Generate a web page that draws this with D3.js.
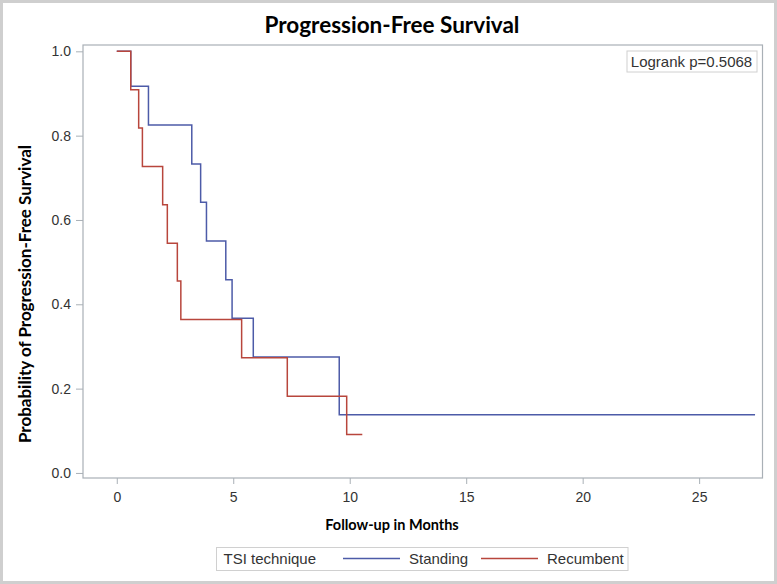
<!DOCTYPE html>
<html>
<head>
<meta charset="utf-8">
<script src="https://cdn.jsdelivr.net/npm/d3@7"></script>
<style>
  body { margin: 0; background: #fff; }
  svg { display: block; }
  .tick text { font-family: "Liberation Sans", Arial, sans-serif; font-size: 14px; fill: #333; }
</style>
</head>
<body>
<svg id="chart"></svg>
<script>
// KM step data
var seriesNames = ["Standing", "Recumbent"];
var standingTimes = [0, 0.6, 1.36, 3.22, 3.6, 3.85, 4.68, 4.95, 5.86, 9.55, 27.4];
var standingSurv = [1, 0.917, 0.825, 0.733, 0.642, 0.550, 0.458, 0.367, 0.275, 0.138, 0.138];
var recumbentTimes = [0, 0.6, 0.94, 1.1, 1.97, 2.17, 2.6, 2.75, 5.36, 7.32, 9.87, 10.54];
var recumbentSurv = [1, 0.909, 0.818, 0.727, 0.636, 0.545, 0.455, 0.364, 0.273, 0.182, 0.091, 0.091];
var xTicks = [0, 5, 10, 15, 20, 25];
var yTicks = [0, 0.2, 0.4, 0.6, 0.8, 1.0];
var pValueText = "Logrank p=0.5068";

var width = 777, height = 584;
var colors = { "Standing": "#4d5ba8", "Recumbent": "#b8463c" };

var svg = d3.select('#chart')
    .attr('width', width)
    .attr('height', height);

// outer border
svg.append('rect')
    .attr('x', 1.5).attr('y', 1.5)
    .attr('width', width - 3).attr('height', height - 3)
    .attr('fill', '#fff')
    .attr('stroke', '#cfcfcf')
    .attr('stroke-width', 3);

var plot = { left: 83, right: 762.5, top: 45, bottom: 478 };

var x = d3.scaleLinear()
    .domain([-1.45, 27.72])
    .range([plot.left, plot.right]);

var y = d3.scaleLinear()
    .domain([-0.012, 1.015])
    .range([plot.bottom, plot.top]);

var boldFont = 'Lato, "Open Sans", sans-serif';
var plainFont = '"Liberation Sans", Arial, sans-serif';

// title
svg.append('text')
    .attr('x', 392).attr('y', 33)
    .attr('text-anchor', 'middle')
    .style('font-family', boldFont)
    .style('font-weight', 'bold')
    .style('font-size', '22.5px')
    .attr('fill', '#000')
    .text('Progression-Free Survival');

// axes
var xAxis = svg.append('g')
    .attr('transform', 'translate(0,' + plot.bottom + ')')
    .call(d3.axisBottom(x).tickValues(xTicks).tickSize(6).tickPadding(8));

var yAxis = svg.append('g')
    .attr('transform', 'translate(' + plot.left + ',0)')
    .call(d3.axisLeft(y).tickValues(yTicks).tickFormat(d3.format('.1f')).tickSize(7).tickPadding(5));

[xAxis, yAxis].forEach(function (a) {
  a.select('.domain').remove();
  a.selectAll('.tick line').attr('stroke', '#a9b0b6');
});

// plot frame
svg.append('rect')
    .attr('x', plot.left).attr('y', plot.top)
    .attr('width', plot.right - plot.left)
    .attr('height', plot.bottom - plot.top)
    .attr('fill', 'none')
    .attr('stroke', '#a9b0b6')
    .attr('stroke-width', 1.2);

// axis labels
svg.append('text')
    .attr('x', 392).attr('y', 530)
    .attr('text-anchor', 'middle')
    .style('font-family', boldFont)
    .style('font-weight', 'bold')
    .style('font-size', '14.5px')
    .text('Follow-up in Months');

svg.append('text')
    .attr('transform', 'translate(31,294) rotate(-90)')
    .attr('text-anchor', 'middle')
    .style('font-family', boldFont)
    .style('font-weight', 'bold')
    .style('font-size', '17px')
    .text('Probability of Progression-Free Survival');

// survival curves
var line = d3.line()
    .x(function (d) { return x(d[0]); })
    .y(function (d) { return y(d[1]); })
    .curve(d3.curveStepAfter);

var series = [
  { name: seriesNames[0], pts: d3.zip(standingTimes, standingSurv) },
  { name: seriesNames[1], pts: d3.zip(recumbentTimes, recumbentSurv) }
];

svg.append('g').selectAll('path')
    .data(series)
    .enter().append('path')
    .attr('d', function (d) { return line(d.pts); })
    .attr('fill', 'none')
    .attr('stroke', function (d) { return colors[d.name]; })
    .attr('stroke-width', 1.5);

// logrank box
var pBox = svg.append('g');
pBox.append('rect')
    .attr('x', 627).attr('y', 51)
    .attr('width', 130).attr('height', 21)
    .attr('fill', '#fff')
    .attr('stroke', '#d0d0d0');
pBox.append('text')
    .attr('x', 691.5).attr('y', 67)
    .attr('text-anchor', 'middle')
    .style('font-family', plainFont)
    .style('font-size', '15px')
    .attr('fill', '#333')
    .text(pValueText);

// legend
var legend = svg.append('g');
legend.append('rect')
    .attr('x', 216.5).attr('y', 547.5)
    .attr('width', 411.5).attr('height', 23)
    .attr('fill', '#fff')
    .attr('stroke', '#d0d0d0');

legend.append('text')
    .attr('x', 223.5).attr('y', 564)
    .style('font-family', plainFont)
    .style('font-size', '15px')
    .attr('fill', '#333')
    .text('TSI technique');

var legendX = [343, 481];
series.forEach(function (s, i) {
  legend.append('line')
      .attr('x1', legendX[i]).attr('x2', legendX[i] + 57)
      .attr('y1', 558.5).attr('y2', 558.5)
      .attr('stroke', colors[s.name])
      .attr('stroke-width', 1.5);
  legend.append('text')
      .attr('x', legendX[i] + 66).attr('y', 564)
      .style('font-family', plainFont)
      .style('font-size', '15px')
      .attr('fill', '#333')
      .text(s.name);
});
</script>
</body>
</html>
